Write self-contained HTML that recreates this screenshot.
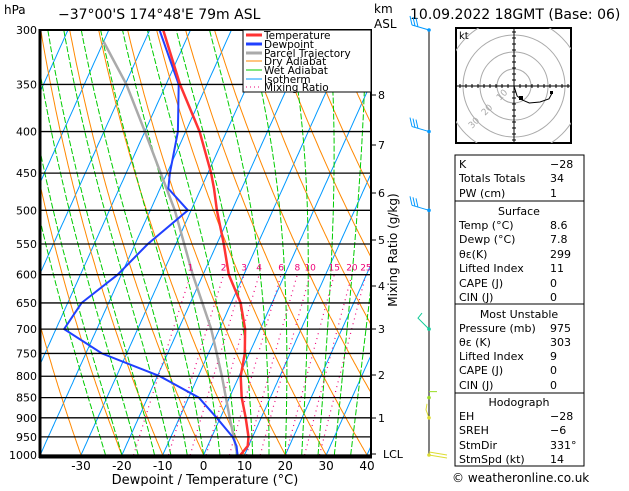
<!DOCTYPE html>
<html><head><meta charset="utf-8"><style>
body{margin:0;background:#fff;width:629px;height:486px;overflow:hidden;font-family:"Liberation Sans","DejaVu Sans",sans-serif}
svg text{font-family:"DejaVu Sans","Liberation Sans",sans-serif}
</style></head><body>
<svg id="s" width="629" height="486" viewBox="0 0 629 486" xmlns="http://www.w3.org/2000/svg">
<defs><clipPath id="pc"><rect x="40" y="30" width="331" height="425"/></clipPath>
<clipPath id="hc"><rect x="456" y="28" width="115" height="115"/></clipPath></defs>
<g id="grid" clip-path="url(#pc)"></g>
<g id="series" clip-path="url(#pc)"></g>
<g id="axes"></g>
<text x="4" y="14" font-size="12">hPa</text>
<text x="58" y="19" font-size="14">−37°00'S  174°48'E  79m  ASL</text>
<text x="374" y="13" font-size="12">km</text>
<text x="374" y="28" font-size="12">ASL</text>
<text x="410" y="19" font-size="14">10.09.2022  18GMT  (Base: 06)</text>
<text x="205" y="484" font-size="13" text-anchor="middle">Dewpoint / Temperature (°C)</text>
<text transform="translate(397,250) rotate(-90)" font-size="12" text-anchor="middle">Mixing Ratio (g/kg)</text>
<g>
<rect x="243" y="30" width="128" height="62" fill="#fff" stroke="#000"/>
<g font-size="10.5">
<line x1="246" y1="35" x2="262" y2="35" stroke="#f33" stroke-width="3"/><text x="264" y="39">Temperature</text>
<line x1="246" y1="44" x2="262" y2="44" stroke="#2040ff" stroke-width="3"/><text x="264" y="48">Dewpoint</text>
<line x1="246" y1="53" x2="262" y2="53" stroke="#aaa" stroke-width="3"/><text x="264" y="57">Parcel Trajectory</text>
<line x1="246" y1="61" x2="262" y2="61" stroke="#f80"/><text x="264" y="65">Dry Adiabat</text>
<line x1="246" y1="70" x2="262" y2="70" stroke="#0c0"/><text x="264" y="74">Wet Adiabat</text>
<line x1="246" y1="79" x2="262" y2="79" stroke="#09f"/><text x="264" y="83">Isotherm</text>
<line x1="246" y1="87" x2="262" y2="87" stroke="#e07" stroke-dasharray="1,3"/><text x="264" y="91">Mixing Ratio</text>
</g></g>
<g id="wind"></g>
<g>
<rect x="456" y="28" width="115" height="115" fill="#fff" stroke="#000" stroke-width="2"/>
<g clip-path="url(#hc)" fill="none" stroke="#aaa"><circle cx="514" cy="86" r="17"/><circle cx="514" cy="86" r="34"/><circle cx="514" cy="86" r="51"/><circle cx="514" cy="86" r="68"/></g>
<line x1="456" y1="86" x2="571" y2="86" stroke="#000"/><line x1="514" y1="28" x2="514" y2="143" stroke="#000"/>
<g id="hticks" stroke="#000"></g>
<text x="459" y="39" font-size="10">kt</text>
<g fill="#aaa" font-size="9"><text transform="translate(500,101) rotate(-45)">10</text><text transform="translate(485,116) rotate(-45)">20</text><text transform="translate(472,129) rotate(-45)">30</text></g>
<polyline id="hodo" fill="none" stroke="#000" points=""/>
<rect x="519" y="96" width="4" height="4" fill="#000"/><rect x="550" y="91" width="3" height="3" fill="#000"/>
</g>
<g font-size="11">
<rect x="455" y="155" width="129" height="311" fill="none" stroke="#000"/>
<line x1="455" y1="201" x2="584" y2="201" stroke="#000"/><line x1="455" y1="304" x2="584" y2="304" stroke="#000"/><line x1="455" y1="393" x2="584" y2="393" stroke="#000"/>
<g id="tbl"></g>
</g>
<text x="452" y="482" font-size="12">© weatheronline.co.uk</text>
</svg>
<script>
const pressures=[1000,975,950,900,850,800,750,700,650,600,550,500,470,450,400,350,300];
const temps=[9.0,9.8,9.0,6.2,3.0,0.4,-1.1,-3.7,-7.7,-13.7,-18.3,-23.7,-26.8,-29.2,-36.6,-46.6,-56.7];
const dews=[8.3,7.1,5.1,-0.9,-7.5,-19.4,-36.1,-48,-46.6,-40.9,-36.9,-30.8,-38.0,-39.3,-41.9,-46.9,-57.6];
const parcelP=[1000,900,800,700,600,500,400,350,310];
const parcelT=[8.3,2.3,-4.2,-12,-22.5,-34,-50,-59.7,-70];
const isoTemps=[];for(let t=-140;t<=40;t+=10)isoTemps.push(t);
const dryThetas=[];for(let t=-40;t<=160;t+=10)dryThetas.push(t);
const wetThetas=[-24,-20,-16,-12,-8,-4,0,4,8,12,16,20,24,28,32,36];
const mixRatios=[1,2,3,4,6,8,10,15,20,25];
const pTicks=[300,350,400,450,500,550,600,650,700,750,800,850,900,950,1000];
const tTicks=[-30,-20,-10,0,10,20,30,40];
const kmTicks=[[8,95],[7,145],[6,193],[5,240],[4,286],[3,329],[2,375],[1,418]];
const NS='http://www.w3.org/2000/svg';
function Y(p){return 30+Math.log(p/300)/Math.log(1000/300)*425;}
function X(t,p){return 203.6+4.086*t+0.45*(455-Y(p));}
function mk(tag,attrs,parent){const e=document.createElementNS(NS,tag);for(const k in attrs)e.setAttribute(k,attrs[k]);parent.appendChild(e);return e;}
const grid=document.getElementById('grid'),ser=document.getElementById('series'),ax=document.getElementById('axes');
function pts(f){let s=[];for(let p=1000;p>=295;p-=5)s.push(X(f(p),p).toFixed(1)+','+Y(p).toFixed(1));return s.join(' ');}
isoTemps.forEach(t=>{const l=mk('polyline',{points:pts(()=>t),fill:'none',stroke:'#09f','stroke-width':1},grid);

});
dryThetas.forEach(th=>{const l=mk('polyline',{points:pts(p=>(th+273.15)*Math.pow(p/1000,0.286)-273.15),fill:'none',stroke:'#f80','stroke-width':1},grid);

});
function es(t){return 6.112*Math.exp(17.67*t/(t+243.5));}
wetThetas.forEach(tw=>{let T=tw+273.15,s=[];for(let p=1000;p>=300;p-=5){s.push(X(T-273.15,p).toFixed(1)+','+Y(p).toFixed(1));
const rs=0.622*es(T-273.15)/(p-es(T-273.15));const L=2.5e6,Rd=287,cp=1005;
const dTdp=(Rd*T+L*rs)/(p*(cp+L*L*rs*0.622/(Rd*T*T)));T-=dTdp*5;}
const l=mk('polyline',{points:s.join(' '),fill:'none',stroke:'#0c0','stroke-width':1,'stroke-dasharray':'6,2'},grid);

});
mixRatios.forEach(w=>{let s=[];for(let p=1000;p>=600;p-=10){const e=w*p/(622+w),a=Math.log(e/6.112),td=243.5*a/(17.67-a);s.push(X(td,p).toFixed(1)+','+Y(p).toFixed(1));}
const l=mk('polyline',{points:s.join(' '),fill:'none',stroke:'#e07','stroke-width':1.2,'stroke-dasharray':'1,4'},grid);


const e=w*600/(622+w),a=Math.log(e/6.112),td=243.5*a/(17.67-a);
const t=mk('text',{x:X(td,600),y:Y(600)-4,'font-size':9,fill:'#e07','text-anchor':'middle'},ax);t.textContent=w;

});
pTicks.forEach(p=>{const l=mk('line',{x1:40,x2:371,y1:Y(p),y2:Y(p),stroke:'#000','stroke-width':1.3},ax);


const t=mk('text',{x:37,y:Y(p)+4,'font-size':11,'text-anchor':'end'},ax);t.textContent=p;

});
tTicks.forEach(tv=>{const x=X(tv,1000);const t=mk('text',{x:x,y:470,'font-size':12,'text-anchor':'middle'},ax);t.textContent=tv;

});
kmTicks.forEach(k=>{mk('line',{x1:371,x2:376,y1:k[1],y2:k[1],stroke:'#000'},ax);const t=mk('text',{x:378,y:k[1]+4,'font-size':11},ax);t.textContent=k[0];

});
mk('line',{x1:371,x2:376,y1:454,y2:454,stroke:'#000'},ax);
const lcl=mk('text',{x:383,y:458,'font-size':11},ax);lcl.textContent='LCL';


mk('rect',{x:40,y:30,width:331,height:426,fill:'none',stroke:'#000','stroke-width':2},ax);
mk('line',{x1:40,x2:40,y1:29,y2:458,stroke:'#000','stroke-width':3},ax);
mk('line',{x1:39,x2:372,y1:457,y2:457,stroke:'#000','stroke-width':3},ax);
function prof(P,T,c,w,name){const s=P.map((p,i)=>X(T[i],p).toFixed(1)+','+Y(p).toFixed(1)).join(' ');const l=mk('polyline',{points:s,fill:'none',stroke:c,'stroke-width':w},ser);

}
prof(parcelP,parcelT,'#aaa',2.5,'parcel-trajectory');
prof(pressures,dews,'#2040ff',2,'dewpoint-line');
prof(pressures,temps,'#f33',2.5,'temperature-line');
// wind
const wind=document.getElementById('wind');
mk('line',{x1:429,x2:429,y1:30,y2:456,stroke:'#000'},wind);
const barbs=[[300,'#09f'],[400,'#09f'],[500,'#09f'],[700,'#1c9'],[850,'#9d2'],[900,'#dd3'],[1000,'#dd3']];
barbs.forEach(b=>{const y=Y(b[0]);mk('circle',{cx:429,cy:y,r:1.8,fill:b[1]},wind);
if(b[0]<=500){mk('path',{d:`M429,${y} L412,${y-5} M412,${y-5} l-2,-9 M415,${y-4} l-2,-9 M418,${y-3} l-2,-9`,fill:'none',stroke:b[1]},wind);}
else if(b[0]==700){mk('path',{d:`M429,${y} L418,${y-11} l4,-5`,fill:'none',stroke:b[1]},wind);}
else if(b[0]==850){mk('path',{d:`M429,${y-6} L437,${y-6}`,fill:'none',stroke:b[1]},wind);}
else if(b[0]==900){mk('path',{d:`M429,${y} L426,${y-8} l1,-6`,fill:'none',stroke:b[1]},wind);}
else {mk('path',{d:`M429,${y-3} L447,${y} M429,${y} L447,${y+3}`,fill:'none',stroke:b[1]},wind);}
});
// hodograph
const ht=document.getElementById('hticks');
for(let i=-9;i<=9;i++){if(!i)continue;mk('line',{x1:514+i*6,x2:514+i*6,y1:84,y2:88},ht);mk('line',{x1:512,x2:516,y1:86+i*6,y2:86+i*6},ht);}
const hu=[0,1.8,4.8,9.0,15.3,20.6,22.4],hv=[0,-5.9,-8.2,-10.0,-9.4,-7.6,-4.1];
document.getElementById('hodo').setAttribute('points',hu.map((u,i)=>(514+u*1.7).toFixed(1)+','+(86-hv[i]*1.7).toFixed(1)).join(' '));
// table
const rows=[['K','-28',164],['Totals Totals','34',178],['PW (cm)','1',193],['Surface',null,211],['Temp (°C)','8.6',225],['Dewp (°C)','7.8',239],['θε(K)','299',254],['Lifted Index','11',268],['CAPE (J)','0',283],['CIN (J)','0',297],['Most Unstable',null,314],['Pressure (mb)','975',328],['θε (K)','303',342],['Lifted Index','9',356],['CAPE (J)','0',370],['CIN (J)','0',385],['Hodograph',null,402],['EH','-28',416],['SREH','-6',430],['StmDir','331°',445],['StmSpd (kt)','14',459]];
const tb=document.getElementById('tbl');
rows.forEach(r=>{if(r[1]===null){const t=mk('text',{x:519,y:r[2]+4,'text-anchor':'middle'},tb);t.textContent=r[0];

}
else{const a=mk('text',{x:459,y:r[2]+4},tb);a.textContent=r[0];


const v=mk('text',{x:550,y:r[2]+4},tb);v.textContent=r[1].replace('-','−');

}});
</script>
</body></html>
